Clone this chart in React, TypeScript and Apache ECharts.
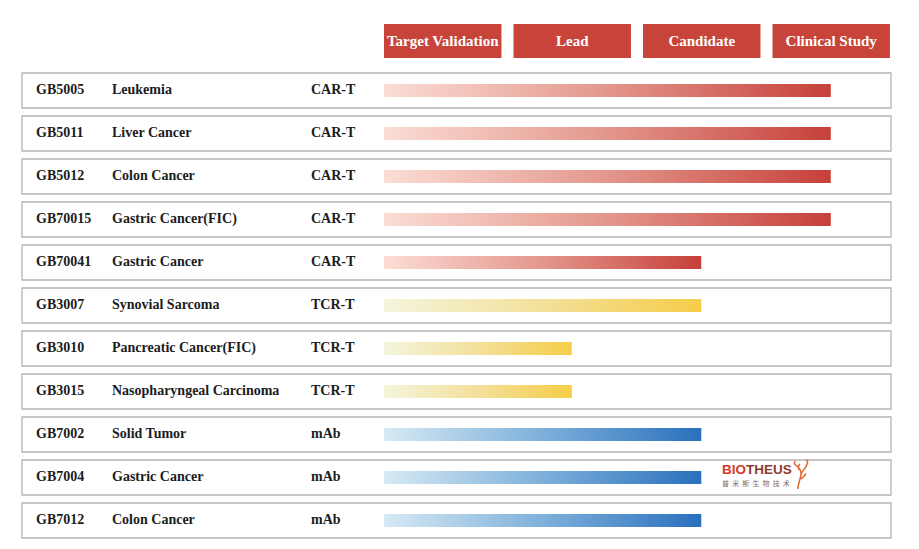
import React, { useEffect, useRef } from "react";
import * as echarts from "echarts";

const stages = ["Target Validation", "Lead", "Candidate", "Clinical Study"];
const codes = ["GB5005", "GB5011", "GB5012", "GB70015", "GB70041", "GB3007", "GB3010", "GB3015", "GB7002", "GB7004", "GB7012"];
const indications = [
  "Leukemia",
  "Liver Cancer",
  "Colon Cancer",
  "Gastric Cancer(FIC)",
  "Gastric Cancer",
  "Synovial Sarcoma",
  "Pancreatic Cancer(FIC)",
  "Nasopharyngeal Carcinoma",
  "Solid Tumor",
  "Gastric Cancer",
  "Colon Cancer",
];
const modalities = ["CAR-T", "CAR-T", "CAR-T", "CAR-T", "CAR-T", "TCR-T", "TCR-T", "TCR-T", "mAb", "mAb", "mAb"];
// progress measured in stage units (0 = start of Target Validation, 4 = end of Clinical Study)
const progress = [3.45, 3.45, 3.45, 3.45, 2.45, 2.45, 1.45, 1.45, 2.45, 2.45, 2.45];

const gradients: Record<string, [string, string, string]> = {
  "CAR-T": ["#FBDDD5", "#E3978C", "#C6403A"],
  "TCR-T": ["#F4F5DC", "#F3E09A", "#F5CD48"],
  mAb: ["#D6E9F4", "#7EB0DA", "#2A70BE"],
};

const SERIF = "'Liberation Serif', 'Times New Roman', serif";
const SANS = "'Liberation Sans', Arial, sans-serif";

const logoPath =
  "M5 31 C4.5 26 7.5 22 8 16 C8.3 12 5.5 9 2.5 7 C1 6 1 4 2.5 3 M8 16 C10 12 13 10 14.5 5 C15 3.5 14 2 13 2.5 M7.6 21 C9.5 19.5 12 18.5 13 15.5 M6.5 12 C5 10 5.5 7.5 7 6";

let shapeOk = false;
try {
  echarts.graphic.registerShape("biofig", echarts.graphic.extendPath(logoPath, {}));
  shapeOk = true;
} catch (e) {
  shapeOk = false;
}

export default function App() {
  const ref = useRef<HTMLDivElement>(null);
  useEffect(() => {
    document.body.style.margin = "0";
    if (!ref.current) return;
    const chart = echarts.init(ref.current, null, { renderer: "svg" });

    const rowData = codes.map((_, i) => [0, i]);
    const headerData = stages.map((_, k) => [k, 0]);

    const graphics: any[] = [
      {
        type: "text",
        x: 722,
        y: 462,
        z: 10,
        style: {
          text: "{a|BIO}{b|THEUS}",
          rich: {
            a: { fontSize: 13.5, fontWeight: "bold", fontFamily: SANS, fill: "#D63A2A" },
            b: { fontSize: 13.5, fontWeight: "bold", fontFamily: SANS, fill: "#8E3A33" },
          },
        },
      },
      {
        type: "text",
        x: 722,
        y: 479,
        z: 10,
        style: {
          text: "普  米  斯  生  物  技  术",
          fontSize: 7,
          fontFamily: "'Noto Sans CJK SC', sans-serif",
          fill: "#8a6a66",
        },
      },
    ];
    if (shapeOk) {
      graphics.push({
        type: "biofig",
        x: 793,
        y: 458,
        z: 10,
        scaleX: 1,
        scaleY: 1,
        style: { fill: "none", stroke: "#E2622C", lineWidth: 1.5 },
      });
    }

    chart.setOption({
      animation: false,
      backgroundColor: "#ffffff",
      grid: { left: 384, right: 17, top: 69, bottom: 7 },
      xAxis: { type: "value", min: 0, max: 4, show: false },
      yAxis: { type: "category", data: codes, inverse: true, show: false },
      series: [
        {
          type: "custom",
          name: "rows",
          z: 1,
          silent: true,
          encode: { x: 0, y: 1 },
          data: rowData,
          renderItem: (params: any, api: any) => {
            const i = api.value(1);
            const cy = api.coord([0, i])[1];
            const cs = params.coordSys;
            const left = cs.x - 362;
            const right = cs.x + cs.width - 11;
            const font = `bold 14px ${SERIF}`;
            return {
              type: "group",
              children: [
                {
                  type: "rect",
                  shape: { x: left, y: cy - 17.5, width: right - left, height: 35 },
                  style: { fill: "#ffffff", stroke: "#b4b4b4", lineWidth: 1.3 },
                },
                {
                  type: "text",
                  style: { text: codes[i], x: left + 14, y: cy - 1, verticalAlign: "middle", font, fill: "#1c1c1c" },
                },
                {
                  type: "text",
                  style: { text: indications[i], x: left + 90, y: cy - 1, verticalAlign: "middle", font, fill: "#1c1c1c" },
                },
                {
                  type: "text",
                  style: { text: modalities[i], x: left + 289, y: cy - 1, verticalAlign: "middle", font, fill: "#1c1c1c" },
                },
              ],
            };
          },
        },
        {
          type: "custom",
          name: "stages",
          z: 2,
          silent: true,
          encode: { x: 0, y: 1 },
          data: headerData,
          renderItem: (params: any, api: any) => {
            const k = api.value(0);
            const x0 = api.coord([k, 0])[0];
            const w = api.size([1, 0])[0] * 0.907;
            const cs = params.coordSys;
            const top = cs.y - 45;
            return {
              type: "group",
              children: [
                {
                  type: "rect",
                  shape: { x: x0, y: top, width: w, height: 34 },
                  style: { fill: "#C8443B" },
                },
                {
                  type: "text",
                  style: {
                    text: stages[k],
                    x: x0 + w / 2,
                    y: top + 17,
                    align: "center",
                    verticalAlign: "middle",
                    font: `bold 15px ${SERIF}`,
                    fill: "#ffffff",
                  },
                },
              ],
            };
          },
        },
        {
          type: "bar",
          name: "progress",
          z: 3,
          barWidth: 13,
          silent: true,
          data: progress.map((v, i) => {
            const g = gradients[modalities[i]];
            return {
              value: v,
              itemStyle: {
                color: new echarts.graphic.LinearGradient(0, 0, 1, 0, [
                  { offset: 0, color: g[0] },
                  { offset: 0.5, color: g[1] },
                  { offset: 1, color: g[2] },
                ]),
              },
            };
          }),
        },
      ],
      graphic: graphics,
    });
    return () => chart.dispose();
  }, []);
  return <div ref={ref} style={{ width: 919, height: 549 }} />;
}
